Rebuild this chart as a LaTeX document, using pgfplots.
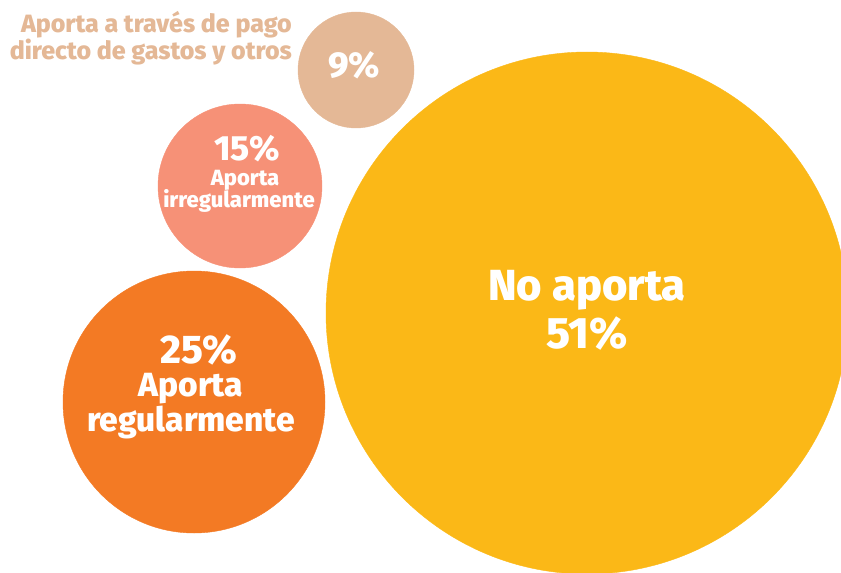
\documentclass[border=0pt]{standalone}
\usepackage{fontspec}
\setmainfont{Fira Sans}[BoldFont={Fira Sans ExtraBold}]
\usepackage{pgfplots}
\pgfplotsset{compat=1.18}
\definecolor{cYel}{HTML}{FBB817}
\definecolor{cOra}{HTML}{F37A24}
\definecolor{cSal}{HTML}{F69177}
\definecolor{cTan}{HTML}{E4B896}
\pgfplotstableread{
x y r
587 313 261
}\tblNo
\pgfplotstableread{
x y r
194 402 131
}\tblReg
\pgfplotstableread{
x y r
240 186 82
}\tblIrr
\pgfplotstableread{
x y r
356 70 58
}\tblPago
\newcommand{\fs}[1]{\fontsize{#1bp}{#1bp}\selectfont\bfseries}
\pgfplotsset{circ/.style={scatter,only marks,mark=*,mark options={draw=#1,fill=#1},
  visualization depends on={\thisrow{r} \as \rad},
  scatter/@pre marker code/.code={\scope[mark size=\rad bp,fill=#1,draw=#1]},
  scatter/@post marker code/.code={\endscope}}}
\begin{document}
\begin{tikzpicture}
\begin{axis}[width=841bp,height=573bp,scale only axis,
  xmin=0,xmax=841,ymin=0,ymax=573,y dir=reverse,
  axis lines=none,clip marker paths=true,
]
\addplot[circ=cYel] table {\tblNo};
\addplot[circ=cOra] table {\tblReg};
\addplot[circ=cSal] table {\tblIrr};
\addplot[circ=cTan] table {\tblPago};
% labels
\node[anchor=base,white,font=\fs{43.5},inner sep=0pt] at (axis cs:587,300) {No aporta};
\node[anchor=base,white,font=\fs{44},inner sep=0pt] at (axis cs:587,348) {51\%};
\node[anchor=base,white,font=\fs{40},inner sep=0pt] at (axis cs:199,363) {25\%};
\node[anchor=base,white,font=\fs{33.5},inner sep=0pt] at (axis cs:191,396) {Aporta};
\node[anchor=base,white,font=\fs{33.5},inner sep=0pt] at (axis cs:191,431) {regularmente};
\node[anchor=base,white,font=\fs{35},inner sep=0pt] at (axis cs:247,160) {15\%};
\node[anchor=base,white,font=\fs{22},inner sep=0pt] at (axis cs:245,185) {Aporta};
\node[anchor=base,white,font=\fs{22},inner sep=0pt] at (axis cs:239,207) {irregularmente};
\node[anchor=base,white,font=\fs{36},inner sep=0pt] at (axis cs:354,78) {9\%};
\node[anchor=base east,cTan,font=\fs{25},inner sep=0pt] at (axis cs:292,33) {Aporta a través de pago};
\node[anchor=base east,cTan,font=\fs{25},inner sep=0pt] at (axis cs:292,60) {directo de gastos y otros};
\end{axis}
\pgfresetboundingbox
\useasboundingbox (current axis.south west) rectangle (current axis.north east);
\end{tikzpicture}
\end{document}
